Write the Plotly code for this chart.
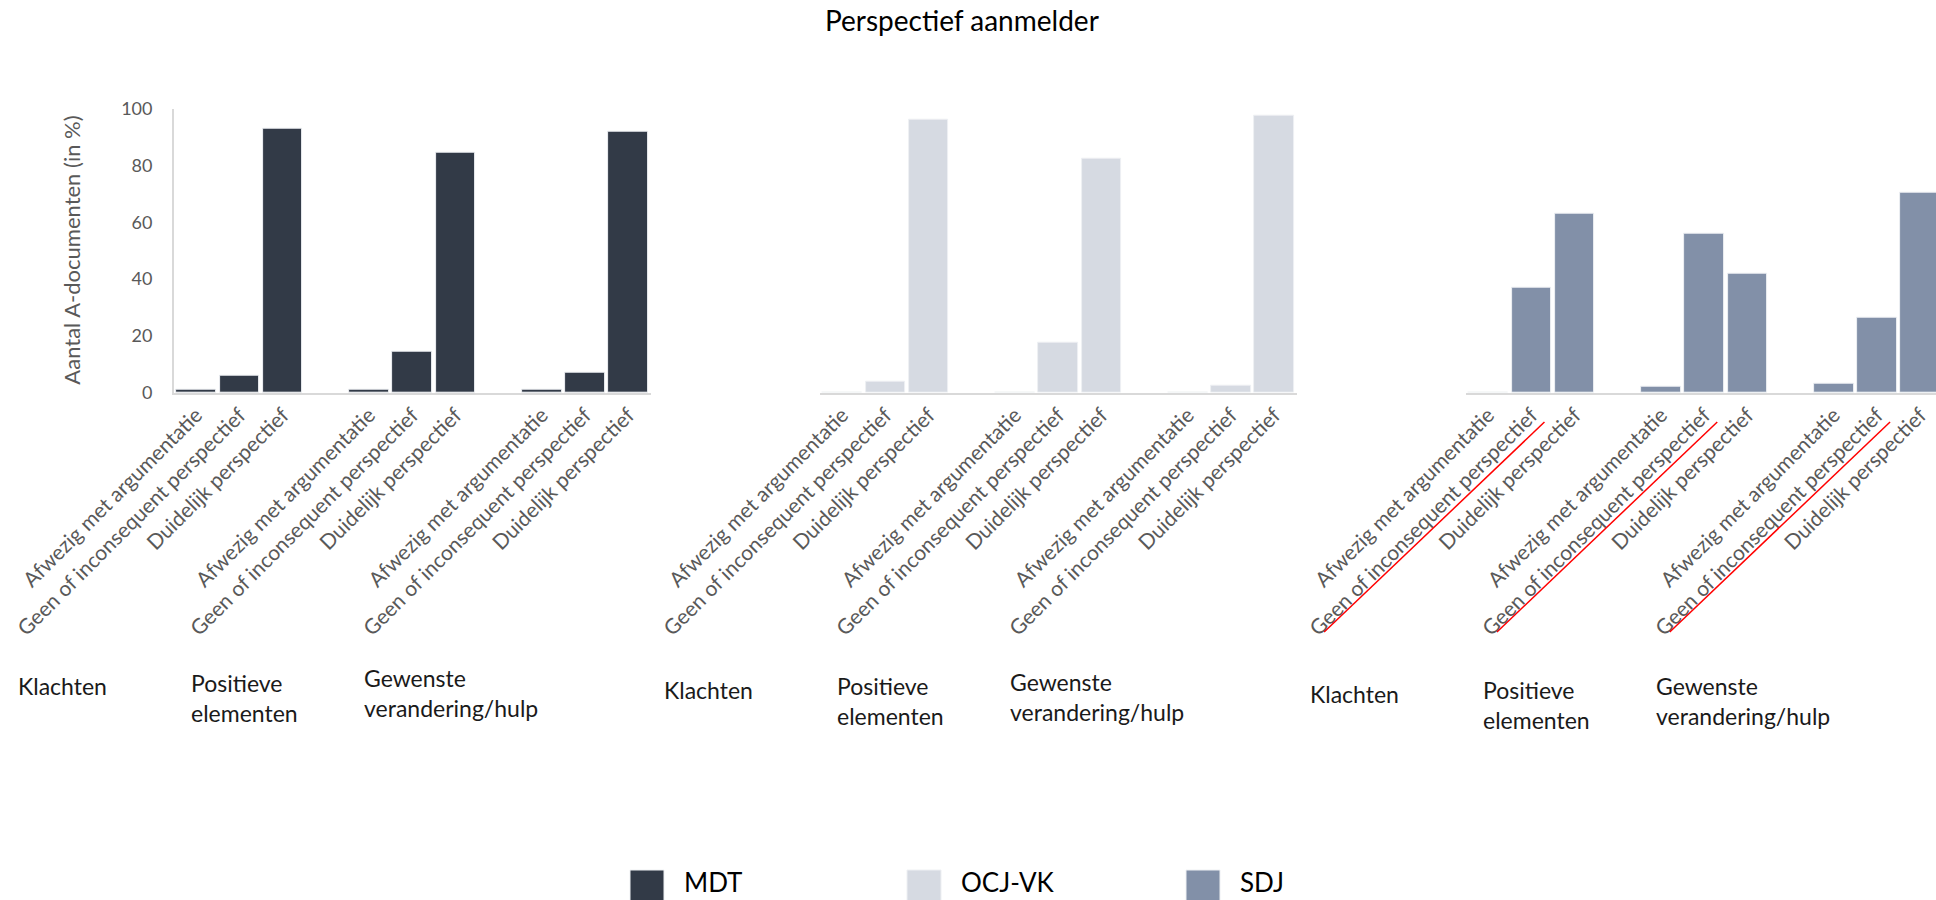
import plotly.graph_objects as go

# --- data -------------------------------------------------------------
categories = ["Klachten", "Positieve<br>elementen", "Gewenste<br>verandering/hulp"]
perspectives = [
    "Afwezig met argumentatie",
    "Geen of inconsequent perspectief",
    "Duidelijk perspectief",
]
organisations = ["MDT", "OCJ-VK", "SDJ"]

# percentage of A-documents per category (rows) and perspective (columns)
mdt = [[1, 6, 93], [1, 14.5, 84.5], [1, 7, 92]]
ocj_vk = [[0, 4, 96], [0, 17.5, 82.5], [0, 2.5, 97.5]]
sdj = [[0, 37, 63], [2, 56, 42], [3, 26.5, 70.5]]

y_ticks = [0, 20, 40, 60, 80, 100]

# --- styling ----------------------------------------------------------
W, H = 1936, 900
FONT = "Lato"
colors = ["#323a47", "#d6dae2", "#8290a8"]
axis_grey = "#d9d9d9"
text_grey = "#595959"

unit = 43.2            # pixels per bar slot
group_step = 4         # slots between category groups
bar_width = 0.915
first_bar_px = [196.3, 842.3, 1488.3]   # centre of first bar in each panel
pad = 0.514
y0_px, y100_px = 392.6, 108.7
label_center_px = [[686, 698, 693], [690, 701, 697], [694, 705, 701]]


def px_x(px):
    return px / W


def px_y(px):
    return 1 - px / H


def slot_px(panel, slot):
    return first_bar_px[panel] + slot * unit


series = [mdt, ocj_vk, sdj]
fig = go.Figure()
shapes = []
annotations = []

for p, values in enumerate(series):
    xs, ys, ticktext = [], [], []
    for g, row in enumerate(values):
        for b, v in enumerate(row):
            xs.append(g * group_step + b)
            ys.append(v)
            ticktext.append(perspectives[b])
    suffix = "" if p == 0 else str(p + 1)
    fig.add_trace(go.Bar(
        x=xs, y=ys, width=bar_width, name=organisations[p],
        marker=dict(color=colors[p], line=dict(color="#eef0f3", width=1)),
        xaxis="x" + suffix, yaxis="y" + suffix, showlegend=False,
        hoverinfo="skip",
    ))

    left_px = first_bar_px[p] - pad * unit
    right_px = min(first_bar_px[p] + (xs[-1] + pad) * unit, W)
    x_range = [-pad, (right_px - first_bar_px[p]) / unit]

    fig.update_layout(**{
        "xaxis" + suffix: dict(
            domain=[px_x(left_px), px_x(right_px)], range=x_range,
            tickmode="array", tickvals=xs, ticktext=ticktext,
            tickangle=-45, ticks="", showgrid=False, zeroline=False,
            showline=True, linecolor=axis_grey, linewidth=2,
            tickfont=dict(family=FONT, size=21, color=text_grey),
            anchor="y" + suffix, automargin=False, fixedrange=True,
        ),
        "yaxis" + suffix: dict(
            domain=[px_y(y0_px), px_y(y100_px)], range=[0, 100],
            tickvals=y_ticks, ticks="", showgrid=False, zeroline=False,
            showline=(p == 0), linecolor=axis_grey, linewidth=2,
            showticklabels=(p == 0), ticklabelstandoff=16,
            tickfont=dict(family=FONT, size=18, color=text_grey),
            anchor="x" + suffix, automargin=False, fixedrange=True,
        ),
    })

    # category names under each group
    for g, cat in enumerate(categories):
        start_px = slot_px(p, g * group_step) - bar_width * unit / 2
        annotations.append(dict(
            text=cat, xref="paper", yref="paper",
            x=px_x(start_px - 160.5), y=px_y(label_center_px[p][g]),
            xanchor="left", yanchor="middle", align="left", showarrow=False,
            font=dict(family=FONT, size=23, color="#1a1a1a"),
        ))

# red underline strokes on the SDJ "Geen of inconsequent perspectief" labels
for g in range(len(categories)):
    tick = g * group_step + 1
    shapes.append(dict(
        type="line", xref="paper", yref="paper",
        x0=px_x(slot_px(2, tick - 4.8)), y0=px_y(632),
        x1=px_x(slot_px(2, tick + 0.3)), y1=px_y(422),
        line=dict(color="#ff0000", width=1.5),
    ))

# y-axis title
annotations.append(dict(
    text="Aantal A-documenten (in %)", xref="paper", yref="paper",
    x=px_x(72), y=px_y((y0_px + y100_px) / 2), textangle=-90,
    xanchor="center", yanchor="middle", showarrow=False,
    font=dict(family=FONT, size=22, color=text_grey),
))

# chart title
annotations.append(dict(
    text="Perspectief aanmelder", xref="paper", yref="paper",
    x=px_x(962), y=px_y(20), xanchor="center", yanchor="middle",
    showarrow=False, font=dict(family=FONT, size=28, color="#000000"),
))

# legend
legend_px = [630, 907, 1186]
for name, col, lx in zip(organisations, colors, legend_px):
    shapes.append(dict(
        type="rect", xref="paper", yref="paper",
        x0=px_x(lx), x1=px_x(lx + 34), y0=px_y(905), y1=px_y(870),
        fillcolor=col, line=dict(color="#eef0f3", width=1),
    ))
    annotations.append(dict(
        text=name, xref="paper", yref="paper",
        x=px_x(lx + 52), y=px_y(882), xanchor="left", yanchor="middle",
        showarrow=False, font=dict(family=FONT, size=26, color="#000000"),
    ))

fig.update_layout(
    width=W, height=H,
    margin=dict(l=0, r=0, t=0, b=0),
    paper_bgcolor="white", plot_bgcolor="white",
    bargap=0, showlegend=False,
    shapes=shapes, annotations=annotations,
)

fig.write_html("out.html", config={"displayModeBar": False})
